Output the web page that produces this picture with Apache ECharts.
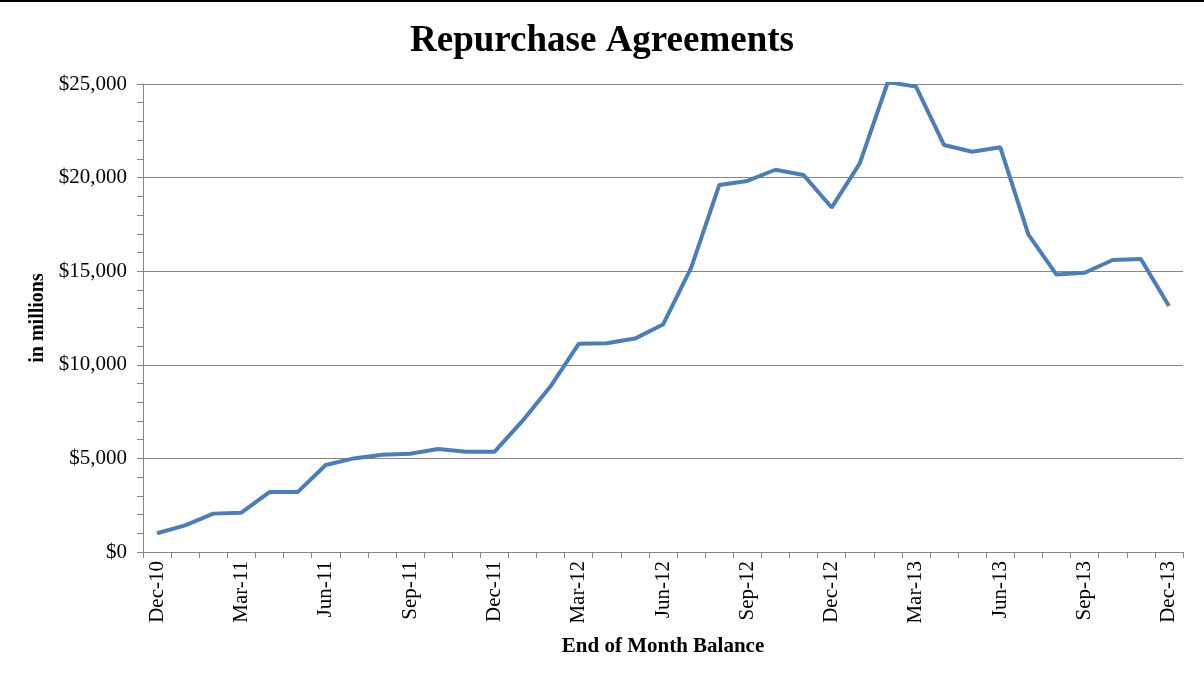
<!DOCTYPE html>
<html><head><meta charset="utf-8">
<script src="https://cdn.jsdelivr.net/npm/echarts@6/dist/echarts.min.js"></script>
<style>html,body{margin:0;padding:0;background:#fff}#c{width:1204px;height:686px}</style>
</head><body><div id="c"></div>
<script>
var months = ['Dec-10','Jan-11','Feb-11','Mar-11','Apr-11','May-11','Jun-11','Jul-11','Aug-11','Sep-11','Oct-11','Nov-11','Dec-11',
'Jan-12','Feb-12','Mar-12','Apr-12','May-12','Jun-12','Jul-12','Aug-12','Sep-12','Oct-12','Nov-12','Dec-12',
'Jan-13','Feb-13','Mar-13','Apr-13','May-13','Jun-13','Jul-13','Aug-13','Sep-13','Oct-13','Nov-13','Dec-13'];
var balances = [1000,1420,2050,2100,3200,3200,4650,5000,5200,5250,5500,5350,5350,
7000,8850,11120,11150,11400,12150,15180,19600,19820,20420,20140,18400,
20760,25100,24860,21740,21380,21620,16950,14820,14920,15600,15650,13140];
var yTicks = {min:0, max:25000, interval:5000};

var chart = echarts.init(document.getElementById('c'));
var serif = '"Liberation Serif","Times New Roman",serif';
var gray = '#868686';
chart.setOption({
  backgroundColor:'#fff',
  animation:false,
  title:{text:'Repurchase Agreements', left:'center', top:18,
    textStyle:{fontFamily:serif, fontWeight:'bold', fontSize:37, color:'#000'}},
  grid:{left:143, right:21, top:84, bottom:134},
  xAxis:{type:'category', data:months, boundaryGap:true,
    name:'End of Month Balance', nameLocation:'middle', nameGap:84,
    nameTextStyle:{fontFamily:serif, fontWeight:'bold', fontSize:21, color:'#000'},
    axisLine:{lineStyle:{color:gray, width:1}},
    axisTick:{show:true, interval:0, length:6, lineStyle:{color:gray}},
    axisLabel:{interval:2, rotate:90, margin:9, fontFamily:serif, fontSize:21, color:'#000'},
    splitLine:{show:false}},
  yAxis:{type:'value', min:yTicks.min, max:yTicks.max, interval:yTicks.interval,
    name:'in millions', nameLocation:'middle', nameGap:92,
    nameTextStyle:{fontFamily:serif, fontWeight:'bold', fontSize:20, color:'#000'},
    axisLine:{show:true, lineStyle:{color:gray, width:1}},
    axisTick:{show:true, length:6, lineStyle:{color:gray}},
    minorTick:{show:true, splitNumber:5, length:6, lineStyle:{color:gray}},
    axisLabel:{margin:16, fontFamily:serif, fontSize:21, color:'#000',
      formatter:function(v){return '$'+v.toLocaleString('en-US');}},
    splitLine:{show:true, lineStyle:{color:gray, width:1}}},
  series:[{type:'line', data:balances, showSymbol:false, symbol:'none',
    lineStyle:{color:'#4a7ebb', width:4}, clip:true}],
  graphic:[{type:'rect', shape:{x:0,y:0,width:1204,height:2}, style:{fill:'#000'}}]
});
</script></body></html>
